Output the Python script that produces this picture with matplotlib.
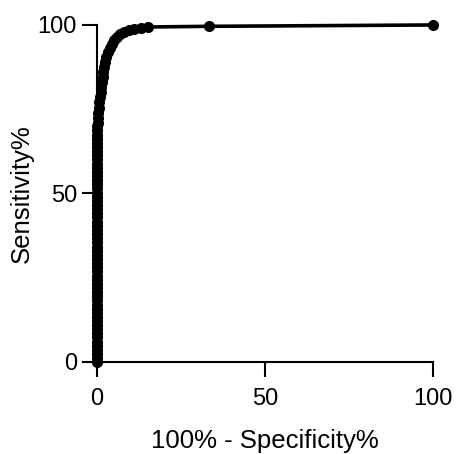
import matplotlib
matplotlib.use("Agg")
import matplotlib.pyplot as plt

plt.rcParams['font.family'] = ['Liberation Sans', 'DejaVu Sans']

# ROC curve points: 100% - Specificity% (x) and Sensitivity% (y)
fpr_pct = [0, 0, 0, 0, 0, 0, 0, 0, 0, 0, 0, 0, 0, 0, 0, 0, 0, 0, 0, 0,
           0, 0, 0, 0, 0, 0, 0, 0, 0, 0, 0, 0, 0, 0, 0, 0, 0, 0, 0, 0,
           0, 0, 0, 0, 0, 0, 0, 0, 0, 0, 0, 0, 0, 0, 0, 0, 0, 0,
           0.2, 0.3, 0.4, 0.5, 0.7, 0.9, 1.1, 1.3, 1.5, 1.7, 1.9, 2.2, 2.5,
           2.8, 3.2, 3.7, 4.3, 5.0, 5.8, 6.8, 8.0, 9.5, 11.0, 13.0, 15.2,
           33.3, 100.0]
sens_pct = [0, 1.1, 2.3, 3.6, 4.8, 6.0, 7.3, 8.5, 9.6, 10.9, 12.1, 13.4, 14.6, 15.8, 17.0, 18.3, 19.5, 20.7, 22.0, 23.2,
            24.4, 25.6, 26.9, 28.1, 29.3, 30.6, 31.8, 33.0, 34.2, 35.5, 36.7, 37.9, 39.2, 40.4, 41.6, 42.9, 44.1, 45.3, 46.5, 47.8,
            49.0, 50.2, 51.5, 52.7, 53.9, 55.1, 56.4, 57.6, 58.8, 60.1, 61.3, 62.5, 63.7, 65.0, 66.2, 67.4, 68.7, 69.9,
            71.0, 72.5, 74.0, 75.5, 77.0, 78.5, 80.0, 81.5, 83.0, 84.5, 86.0, 87.5, 89.0,
            90.5, 92.0, 93.2, 94.4, 95.5, 96.5, 97.3, 98.0, 98.4, 98.7, 99.0, 99.4,
            99.6, 100.0]
x_ticks = [0, 50, 100]
y_ticks = [0, 50, 100]

fig = plt.figure(figsize=(4.58, 4.54), dpi=100)
ax = fig.add_axes([0.212, 0.203, 0.733, 0.742])

ax.plot(fpr_pct, sens_pct, color='black', linewidth=2.6, marker='o',
        markersize=8, markeredgewidth=0, clip_on=False, zorder=3)

ax.set_xlim(0, 100)
ax.set_ylim(0, 100)
ax.set_xticks(x_ticks)
ax.set_yticks(y_ticks)
ax.tick_params(direction='out', length=10.5, width=1.5, labelsize=17)
ax.tick_params(axis='x', pad=8)
ax.tick_params(axis='y', pad=4)
for s in ['top', 'right']:
    ax.spines[s].set_visible(False)
for s in ['left', 'bottom']:
    ax.spines[s].set_linewidth(1.5)

ax.set_xlabel('100% - Specificity%', fontsize=18.5, labelpad=14)
ax.set_ylabel('Sensitivity%', fontsize=18.5, labelpad=3)

fig.savefig('out.png', dpi=100)
